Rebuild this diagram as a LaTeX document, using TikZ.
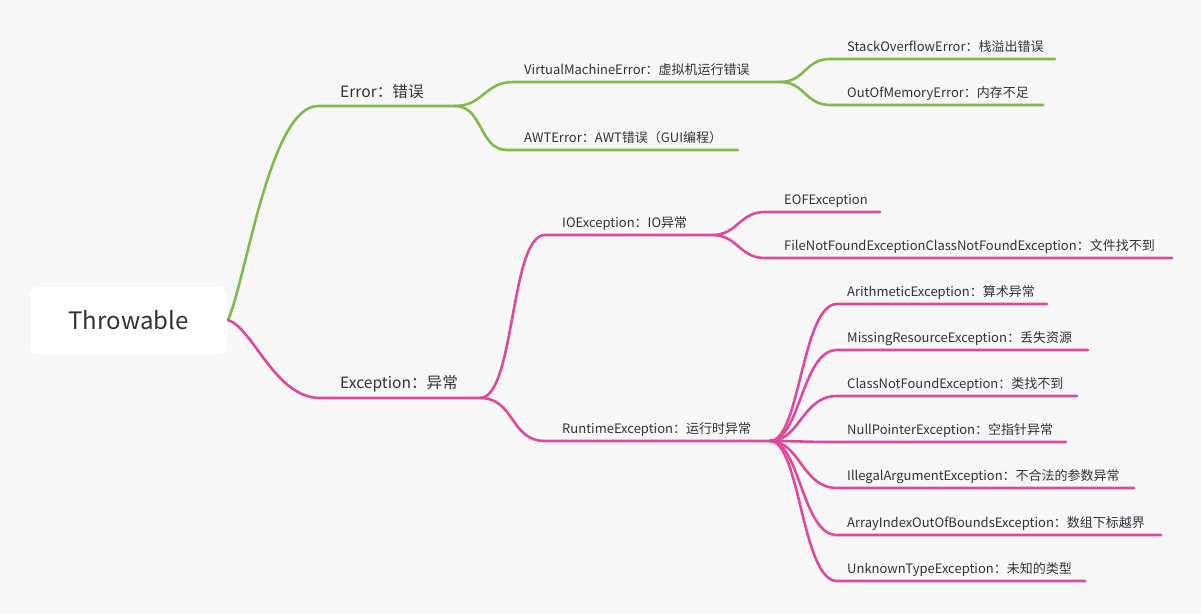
\documentclass[tikz,border=0pt]{standalone}
\usepackage{fontspec}
\setmainfont{Noto Sans CJK SC}
\usepackage{xcolor}
\definecolor{bggray}{HTML}{F7F7F7}
\definecolor{errgreen}{HTML}{80BB4A}
\definecolor{expink}{HTML}{DE4A9B}
\definecolor{txtgray}{HTML}{2F3338}

\begin{document}
\begin{tikzpicture}[x=1pt,y=-1pt,line cap=round]
\tikzset{
  leaf/.style={anchor=base west, inner sep=0pt, text=txtgray, font=\fontsize{13}{15}\selectfont},
  major/.style={leaf, font=\fontsize{15.6}{18}\selectfont},
  gline/.style={draw=errgreen, line width=2.6pt},
  pline/.style={draw=expink, line width=2.6pt},
}
\fill[bggray] (0,0) rectangle (1201,613);
\useasboundingbox (0,0) rectangle (1201,613);

% root
\node[fill=white, rounded corners=7pt, minimum width=197pt, minimum height=67pt,
      text=txtgray, font=\fontsize{24}{28}\selectfont] (root) at (128.5,320.5) {Throwable};
\coordinate (rootR) at (228,320);

% Error branch
\coordinate (errS) at (318,106);  \coordinate (errE) at (455,106);
\coordinate (vmS) at (513,82);    \coordinate (vmE) at (780,82);
\coordinate (awtS) at (507,150);  \coordinate (awtE) at (738,150);
\coordinate (soS) at (830,59);    \coordinate (soE) at (1055,59);
\coordinate (oomS) at (830,105);  \coordinate (oomE) at (1043,105);

\node[major] (err) at (340,97) {Error：错误};
\node[leaf] (vm) at (524,74) {VirtualMachineError：虚拟机运行错误};
\node[leaf] (awt) at (524,142) {AWTError：AWT错误（GUI编程）};
\node[leaf] (so) at (847,51) {StackOverflowError：栈溢出错误};
\node[leaf] (oom) at (847,97) {OutOfMemoryError：内存不足};

\draw[gline] (rootR) .. controls +(18,-40) and +(-48,0) .. (errS) -- (errE);
\draw[gline] (errE) .. controls +(28,0) and +(-28,0) .. (vmS) -- (vmE);
\draw[gline] (errE) .. controls +(28,0) and +(-28,0) .. (awtS) -- (awtE);
\draw[gline] (vmE) .. controls +(25,0) and +(-25,0) .. (soS) -- (soE);
\draw[gline] (vmE) .. controls +(25,0) and +(-25,0) .. (oomS) -- (oomE);

% Exception branch
\coordinate (exS) at (320,398);   \coordinate (exE) at (480,398);
\coordinate (ioS) at (545,235);   \coordinate (ioE) at (712,235);
\coordinate (eofS) at (765,212);  \coordinate (eofE) at (880,212);
\coordinate (fnfS) at (765,258);  \coordinate (fnfE) at (1172,258);
\coordinate (rtS) at (545,441);   \coordinate (rtE) at (770,441);

\node[major] (ex) at (340,388) {Exception：异常};
\node[leaf] (io) at (562,227) {IOException：IO异常};
\node[leaf] (eof) at (784,204) {EOFException};
\node[leaf] (fnf) at (784,250) {FileNotFoundExceptionClassNotFoundException：文件找不到};
\node[leaf] (rt) at (562,433) {RuntimeException：运行时异常};

\draw[pline] (rootR) .. controls +(25,8) and +(-45,0) .. (exS) -- (exE);
\draw[pline] (exE) .. controls +(35,0) and +(-35,0) .. (ioS) -- (ioE);
\draw[pline] (exE) .. controls +(35,0) and +(-35,0) .. (rtS) -- (rtE);
\draw[pline] (ioE) .. controls +(26,0) and +(-26,0) .. (eofS) -- (eofE);
\draw[pline] (ioE) .. controls +(26,0) and +(-26,0) .. (fnfS) -- (fnfE);

% runtime children
\foreach \i/\yy/\xe/\lbl in {
  1/304/1047/{ArithmeticException：算术异常},
  2/350/1088/{MissingResourceException：丢失资源},
  3/396/1077/{ClassNotFoundException：类找不到},
  4/442/1066/{NullPointerException：空指针异常},
  5/488/1134/{IllegalArgumentException：不合法的参数异常},
  6/535/1161/{ArrayIndexOutOfBoundsException：数组下标越界},
  7/581/1085/{UnknownTypeException：未知的类型}}
{
  \coordinate (rc\i S) at (837,\yy);
  \coordinate (rc\i E) at (\xe,\yy);
  \node[leaf] (rc\i) at (847,\yy-8) {\lbl};
  \draw[pline] (rtE) .. controls +(30,0) and +(-35,0) .. (rc\i S) -- (rc\i E);
}
\end{tikzpicture}
\end{document}
